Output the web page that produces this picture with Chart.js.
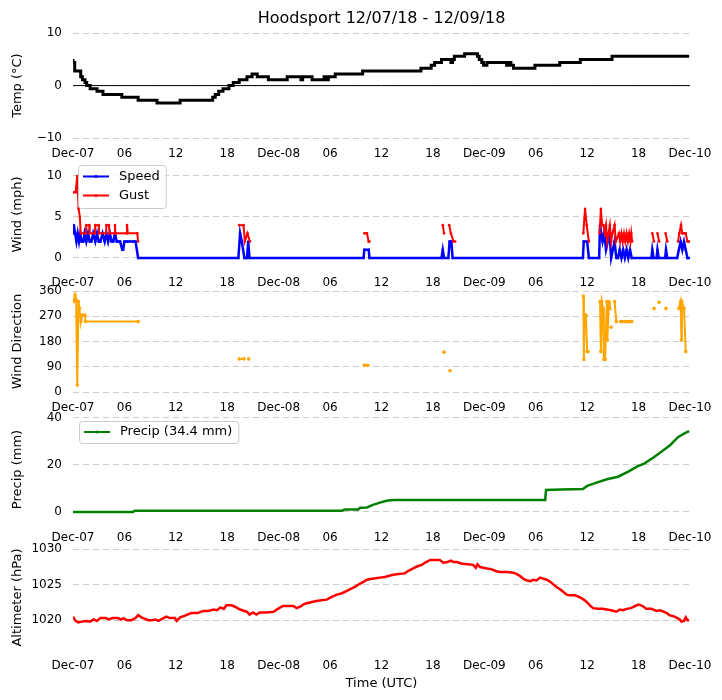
<!DOCTYPE html>
<html>
<head>
<meta charset="utf-8">
<script src="https://cdn.jsdelivr.net/npm/chart.js@4/dist/chart.umd.min.js"></script>
<style>
  body { margin: 0; background: #fff; }
  #wrap { position: relative; width: 722px; height: 700px; background: #fff; }
  #wrap canvas { position: absolute; left: 0; }
</style>
</head>
<body>
<div id="wrap">
  <canvas id="cTemp" width="722" height="168" style="top:0px"></canvas>
  <canvas id="cWind" width="722" height="145" style="top:152px"></canvas>
  <canvas id="cDir" width="722" height="141" style="top:281px"></canvas>
  <canvas id="cPrecip" width="722" height="145" style="top:407px"></canvas>
  <canvas id="cAlt" width="722" height="165" style="top:535px"></canvas>
</div>
<script>
/*********************************************/
/*      Hoodsport station, Dec 7 - Dec 9     */
/*********************************************/

// x values are hours after 2018-12-07 00:00 UTC
const xTickHours = [0, 6, 12, 18, 24, 30, 36, 42, 48, 54, 60, 66, 72];
const xTickLabels = ["Dec-07", "06", "12", "18", "Dec-08", "06", "12", "18", "Dec-09", "06", "12", "18", "Dec-10"];

// temperature (deg C), held until the next reading
const tempHours = [0.0, 0.2, 0.9, 1.1, 1.4, 1.6, 2.0, 2.8, 3.5, 5.7, 7.6, 9.8, 12.5, 16.3, 16.6, 17.0, 17.5, 18.2, 18.7, 19.4, 20.3, 20.9, 21.5, 22.8, 25.0, 26.6, 26.8, 27.9, 29.3, 29.5, 29.8, 30.6, 33.8, 40.6, 41.8, 42.2, 43.0, 44.1, 44.3, 44.5, 45.7, 47.2, 47.4, 47.7, 47.9, 48.3, 50.6, 50.8, 51.1, 51.4, 53.9, 56.8, 59.2, 62.9, 66.0, 71.9];
const tempVals = [5.1, 4.4, 2.8, 1.7, 1.1, 0.6, 0.0, -0.6, -1.1, -1.7, -2.2, -2.8, -3.3, -2.8, -2.2, -1.7, -1.1, -0.6, 0.0, 0.6, 1.1, 1.7, 2.2, 1.7, 1.1, 1.7, 1.1, 1.7, 1.1, 1.7, 1.1, 1.7, 2.2, 2.8, 3.3, 3.9, 4.4, 5.0, 4.4, 5.0, 5.6, 6.1, 5.6, 5.0, 4.4, 3.9, 4.4, 3.9, 4.4, 3.9, 3.3, 3.9, 4.4, 5.0, 5.6, 5.6];

// wind speed (mph)
const speedHours = [
  0.0, 0.1, 0.25, 0.4, 0.55, 0.7, 0.85, 1.0, 1.2, 1.35, 1.55, 1.75, 1.95, 2.15, 2.35, 2.6, 2.8, 3.0, 3.2, 3.45, 3.7, 3.9, 4.1, 4.3, 4.5, 4.7, 4.9, 5.1, 5.3, 5.5, 5.75, 5.85, 6.0, 6.3, 6.6, 7.0, 7.3, 7.6,
  19.3, 19.5, 19.7, 20.0, 20.3, 20.45, 20.6,
  33.9, 34.0, 34.5, 34.6,
  43.0, 43.15, 43.3, 43.8, 43.95, 44.15, 44.3,
  59.5, 59.6, 60.0, 60.2,
  61.4, 61.5, 61.65, 61.8, 62.0, 62.2, 62.4, 62.6, 62.8, 63.0, 63.2, 63.4, 63.6, 63.8, 64.0, 64.2, 64.4, 64.6, 64.8, 65.0, 65.2,
  67.5, 67.6, 67.75, 68.1, 68.2, 68.35, 69.1, 69.2, 69.35,
  70.5, 70.7, 70.9, 71.1, 71.3, 71.5, 71.7, 71.9
];
const speedVals = [
  3, 4, 3, 2, 3, 2, 3, 2, 2, 3, 2, 3, 2, 2, 3, 2, 3, 2, 2, 3, 2, 3, 2, 3, 2, 2, 3, 2, 2, 2, 1, 1, 2, 2, 2, 2, 2, 0,
  0, 3, 2, 0, 0, 2, 0,
  0, 1, 1, 0,
  0, 1, 0, 0, 2, 2, 0,
  0, 2, 2, 0,
  0, 4, 3, 2, 3, 1, 2, 3, 0, 1, 2, 0, 0, 1, 0, 1, 0, 1, 0, 1, 0,
  0, 1, 0, 0, 1, 0, 0, 1, 0,
  0, 1, 2, 1, 2, 1, 0, 0
];

// wind gust (mph), null = no gust reported
const gustHours = [
  0.0, 0.3, 0.5, 0.65, 0.8, 0.9, 1.5, 1.55, 1.9, 1.95, 2.55, 2.6, 3.0, 3.05, 3.85, 3.9, 4.2, 4.25, 4.85, 4.9, 4.95, 6.25, 6.3, 6.4, 7.5, 7.6, 8.0,
  19.4, 19.9, 20.05, 20.35, 20.65, 21.0,
  34.0, 34.3, 34.5, 34.6, 35.0,
  43.15, 43.3, 43.6, 43.9, 44.1, 44.4, 44.6, 45.0,
  59.55, 59.75, 59.95, 60.2, 60.6,
  61.45, 61.6, 61.75, 61.9, 62.05, 62.2, 62.35, 62.5, 62.65, 62.8, 62.95, 63.2, 63.35, 63.7, 63.85, 64.0, 64.15, 64.3, 64.45, 64.6, 64.75, 64.9, 65.05, 65.15, 65.25, 65.5,
  67.6, 67.8, 68.0, 68.2, 68.4, 68.8, 69.15, 69.35, 70.0,
  70.6, 70.75, 70.95, 71.1, 71.3, 71.5, 71.7, 71.9
];
const gustVals = [
  8, 8, 10, 6, 5, 3, 3, 4, 4, 3, 3, 4, 4, 3, 3, 4, 4, 3, 3, 4, 3, 3, 4, 3, 3, 2, null,
  4, 4, 2, 3, 2, null,
  3, 3, 2, 2, null,
  4, 3, null, 4, 3, 2, 2, null,
  3, 6, 4, 2, null,
  3, 6, 4, 4, 3, 4, 2, 3, 4, 2, 3, 4, 2, 3, 2, 3, 2, 3, 2, 3, 2, 3, 2, 3, 2, null,
  3, 2, null, 3, 2, null, 3, 2, null,
  2, 3, 4, 3, 3, 3, 2, 2
];

// wind direction (degrees), null = calm
const dirHours = [
  0.05, 0.24, 0.36, 0.5, 0.64, 0.75, 0.82, 0.93, 1.1, 1.4, 1.45, 7.6, 8.0,
  19.4, 19.95, 20.2, 20.5, 21.0,
  34.0, 34.4, 35.0,
  43.3, 43.6, 44.0, 44.5,
  59.55, 59.62, 59.68, 59.85, 60.0, 60.1, 60.6,
  61.5, 61.6, 61.7, 61.85, 61.95, 62.1, 62.3, 62.35, 62.55, 62.65, 62.7, 62.8, 63.0,
  63.2, 63.4, 63.6, 63.9, 64.15, 64.3, 64.45, 64.7, 64.8, 64.95, 65.2, 65.5,
  67.8, 68.0, 68.4, 68.8, 69.2, 69.6,
  70.7, 70.9, 71.0, 71.05, 71.3, 71.5
];
const dirVals = [
  322, 346, 330, 25, 322, 298, 274, 251, 274, 274, 251, 251, null,
  118, 118, null, 118, null,
  95, 95, null,
  142, null, 76, null,
  342, 116, 274, 274, 144, 144, null,
  322, 144, 322, 298, 116, 116, 322, 185, 322, 298, null, 231, null,
  322, 251, null, 251, 251, null, 251, 251, null, 251, 251, null,
  298, null, 320, null, 298, null,
  298, 322, 185, 322, 298, 144
];

// accumulated precipitation (mm)
const precipHours = [0, 7.0, 7.2, 31.4, 31.7, 33.3, 33.5, 34.3, 35.0, 35.8, 36.6, 37.4, 55.1, 55.2, 57.0, 59.5, 60.0, 61.1, 62.3, 63.6, 64.8, 65.8, 66.7, 67.7, 68.7, 69.7, 70.6, 71.4, 71.9];
const precipVals = [0, 0, 0.5, 0.5, 1.1, 1.1, 1.8, 1.9, 3.0, 4.0, 4.8, 5.1, 5.1, 9.4, 9.6, 9.8, 11.1, 12.5, 13.9, 15.0, 17.2, 19.3, 20.7, 23.1, 25.7, 28.5, 31.8, 33.5, 34.4];

// altimeter (hPa)
const altHours = [
  0.0, 0.3, 0.6, 1.0, 1.6, 2.0, 2.4, 2.8, 3.2, 3.8,
  4.2, 4.6, 5.2, 5.6, 5.9, 6.3, 6.8, 7.3, 7.6, 8.0,
  8.4, 8.8, 9.2, 9.6, 10.0, 10.4, 10.9, 11.3, 11.9, 12.1,
  12.5, 13.0, 13.8, 14.5, 15.2, 15.8, 16.4, 16.8, 17.2, 17.6,
  17.9, 18.5, 18.9, 19.5, 20.0, 20.3, 20.6, 21.0, 21.4, 21.8,
  22.5, 23.4, 23.9, 24.5, 25.2, 25.7, 26.1, 26.5, 27.0, 27.3,
  28.0, 28.4, 29.0, 29.6, 30.2, 30.8, 31.4, 31.9, 32.4, 32.9,
  33.4, 33.9, 34.3, 34.7, 35.3, 35.8, 36.4, 37.0, 37.4, 38.0,
  38.7, 39.2, 39.7, 40.2, 40.7, 41.2, 41.7, 42.3, 42.8, 43.2,
  43.7, 44.1, 44.4, 44.8, 45.3, 46.0, 46.7, 47.0, 47.2, 47.5,
  48.3, 48.8, 49.4, 49.8, 50.6, 51.4, 51.8, 52.2, 52.6, 53.0,
  53.4, 53.7, 54.1, 54.5, 55.0, 55.3, 55.7, 56.1, 56.5, 56.8,
  57.2, 57.6, 58.0, 58.6, 59.2, 59.6, 60.0, 60.4, 60.7, 61.2,
  61.8, 62.3, 62.8, 63.4, 63.8, 64.2, 64.6, 65.1, 65.6, 66.0,
  66.3, 66.6, 66.9, 67.5, 68.1, 68.5, 68.9, 69.3, 69.6, 70.2,
  70.8, 71.0, 71.3, 71.5, 71.7, 71.9
];
const altVals = [
  1020.5, 1019.9, 1019.7, 1019.8, 1019.9, 1019.8, 1020.1, 1019.9, 1020.3, 1020.3,
  1020.1, 1020.3, 1020.3, 1020.1, 1020.3, 1020.0, 1020.0, 1020.3, 1020.7, 1020.4,
  1020.2, 1020.0, 1020.0, 1020.1, 1019.9, 1020.2, 1020.5, 1020.3, 1020.3, 1019.9,
  1020.4, 1020.6, 1021.0, 1021.0, 1021.3, 1021.3, 1021.5, 1021.4, 1021.8, 1021.6,
  1022.1, 1022.1, 1021.9, 1021.5, 1021.3, 1021.2, 1020.8, 1021.1, 1020.8, 1021.1,
  1021.1, 1021.2, 1021.6, 1022.0, 1022.0, 1022.0, 1021.7, 1021.9, 1022.3, 1022.4,
  1022.6, 1022.7, 1022.8, 1022.9, 1023.3, 1023.6, 1023.8, 1024.1, 1024.4, 1024.7,
  1025.1, 1025.4, 1025.7, 1025.8, 1025.9, 1026.0, 1026.1, 1026.3, 1026.4, 1026.5,
  1026.6, 1027.0, 1027.3, 1027.6, 1027.8, 1028.2, 1028.5, 1028.5, 1028.5, 1028.1,
  1028.2, 1028.4, 1028.2, 1028.2, 1028.0, 1027.9, 1027.8, 1027.4, 1027.9, 1027.5,
  1027.3, 1027.2, 1026.9, 1026.8, 1026.8, 1026.7, 1026.5, 1026.2, 1025.8, 1025.6,
  1025.5, 1025.7, 1025.6, 1026.0, 1025.8, 1025.7, 1025.4, 1025.0, 1024.6, 1024.4,
  1024.0, 1023.6, 1023.5, 1023.5, 1023.2, 1022.9, 1022.5, 1022.0, 1021.7, 1021.6,
  1021.6, 1021.5, 1021.4, 1021.2, 1021.5, 1021.4, 1021.6, 1021.7, 1022.0, 1022.2,
  1022.1, 1021.9, 1021.6, 1021.6, 1021.3, 1021.4, 1021.2, 1021.0, 1020.7, 1020.5,
  1020.1, 1019.8, 1019.9, 1020.4, 1020.0, 1020.0
];

// pair up x/y arrays for the library
function pts(hours, vals) {
  return hours.map(function (h, i) {
    return { x: h, y: vals[i] };
  });
}

Chart.defaults.font.family = "'DejaVu Sans', sans-serif";
Chart.defaults.color = "#000";

// framed legend drawn inside the plot, like matplotlib's
const frameLegend = {
  id: "frameLegend",
  afterDraw(chart, args, opts) {
    if (!opts.show) return;
    const sets = chart.data.datasets.filter((d) => d.inLegend);
    const ctx = chart.ctx;
    ctx.save();
    ctx.font = "13px 'DejaVu Sans'";
    const textW = Math.max(...sets.map((d) => ctx.measureText(d.label).width));
    const x = chart.chartArea.left + opts.dx;
    const y = chart.chartArea.top + opts.dy;
    const w = 41 + textW + 6;
    const h = opts.h;
    ctx.beginPath();
    if (ctx.roundRect) ctx.roundRect(x + 0.5, y + 0.5, w, h, 3);
    else ctx.rect(x + 0.5, y + 0.5, w, h);
    ctx.fillStyle = "rgba(255,255,255,0.8)";
    ctx.fill();
    ctx.strokeStyle = "#cccccc";
    ctx.lineWidth = 1;
    ctx.stroke();
    sets.forEach((d, i) => {
      const ly = y + opts.row0 + i * 19;
      ctx.strokeStyle = d.borderColor;
      ctx.lineWidth = 2;
      ctx.beginPath();
      ctx.moveTo(x + 5, ly);
      ctx.lineTo(x + 31, ly);
      ctx.stroke();
      ctx.fillStyle = d.borderColor;
      ctx.beginPath();
      ctx.arc(x + 18, ly, 1.6, 0, Math.PI * 2);
      ctx.fill();
      ctx.fillStyle = "#000";
      ctx.textBaseline = "middle";
      ctx.fillText(d.label, x + 41, ly);
    });
    ctx.restore();
  }
};

// one subplot = one chart on its own canvas
function panel(id, datasets, o) {
  return new Chart(document.getElementById(id), {
    type: "line",
    data: { datasets: datasets },
    options: {
      responsive: false,
      animation: false,
      layout: { padding: { top: o.padTop, right: 32, left: 0, bottom: 0 } },
      plugins: {
        legend: { display: false },
        tooltip: { enabled: false },
        title: o.title || { display: false },
        frameLegend: o.legend || { show: false }
      },
      scales: {
        x: {
          type: "linear",
          min: 0,
          max: 72,
          grid: { display: false },
          border: { display: false },
          afterBuildTicks: (s) => { s.ticks = xTickHours.map((v) => ({ value: v })); },
          afterFit: (s) => { s.height = o.xHeight; },
          ticks: {
            autoSkip: false,
            maxRotation: 0,
            padding: 1,
            font: { size: 12 },
            callback: (v, i) => xTickLabels[i]
          },
          title: o.xTitle || { display: false }
        },
        y: {
          min: o.yMin,
          max: o.yMax,
          afterBuildTicks: (s) => { s.ticks = o.yTicks.map((v) => ({ value: v })); },
          afterFit: (s) => {
            s.width = 73;
            // keep the label overhang from pushing the plot down
            s.paddingTop = 8;
            s.paddingBottom = 8;
          },
          grid: { color: "#cccccc", lineWidth: 1, drawTicks: false },
          border: { display: false, dash: [6, 4] },
          ticks: {
            padding: 11,
            font: { size: 12 },
            callback: (v) => String(v).replace("-", "\u2212")
          },
          title: {
            display: true,
            text: o.yTitle,
            font: { size: 13 },
            padding: { top: 10, bottom: 0 }
          }
        }
      }
    },
    plugins: [frameLegend]
  });
}

const lineBase = { fill: false, tension: 0, pointBorderWidth: 0 };

// Temp
panel("cTemp", [
  Object.assign({}, lineBase, {
    label: "Temp", data: pts(tempHours, tempVals), stepped: "after",
    borderColor: "#000000", backgroundColor: "#000000", borderWidth: 3, pointRadius: 0, order: 0
  }),
  Object.assign({}, lineBase, {
    label: "zero", data: pts([0, 72], [0, 0]),
    borderColor: "#000000", borderWidth: 1, pointRadius: 0, order: 1
  })
], {
  padTop: 0, xHeight: 30, yMin: -10, yMax: 10, yTicks: [-10, 0, 10], yTitle: "Temp (°C)",
  title: {
    display: true, text: "Hoodsport 12/07/18 - 12/09/18", fullSize: false,
    font: { size: 16, weight: "normal" }, color: "#000", padding: { top: 9, bottom: 5 }
  }
});

// Wind
panel("cWind", [
  Object.assign({}, lineBase, {
    label: "Speed", inLegend: true, data: pts(speedHours, speedVals),
    borderColor: "#0000ff", backgroundColor: "#0000ff", borderWidth: 2.5, pointRadius: 1.3, order: 1
  }),
  Object.assign({}, lineBase, {
    label: "Gust", inLegend: true, data: pts(gustHours, gustVals),
    borderColor: "#ff0000", backgroundColor: "#ff0000", borderWidth: 2, pointRadius: 1.3, order: 0
  })
], {
  padTop: 10, xHeight: 30, yMin: -1.1, yMax: 11.7, yTicks: [0, 5, 10], yTitle: "Wind (mph)",
  legend: { show: true, dx: 5, dy: 3, h: 43, row0: 11.5 }
});

// Wind direction
panel("cDir", [
  Object.assign({}, lineBase, {
    label: "Direction", data: pts(dirHours, dirVals),
    borderColor: "#ffa500", backgroundColor: "#ffa500", borderWidth: 2, pointRadius: 1.8
  })
], {
  padTop: 10, xHeight: 30, yMin: 0, yMax: 360, yTicks: [0, 90, 180, 270, 360], yTitle: "Wind Direction"
});

// Precip
const precipTotal = precipVals[precipVals.length - 1];
panel("cPrecip", [
  Object.assign({}, lineBase, {
    label: "Precip (" + precipTotal.toFixed(1) + " mm)", inLegend: true, data: pts(precipHours, precipVals),
    borderColor: "#008000", backgroundColor: "#008000", borderWidth: 2.5, pointRadius: 0
  })
], {
  padTop: 10, xHeight: 30, yMin: -4.26, yMax: 40.4, yTicks: [0, 20, 40], yTitle: "Precip (mm)",
  legend: { show: true, dx: 6, dy: 4, h: 22, row0: 11 }
});

// Altimeter
panel("cAlt", [
  Object.assign({}, lineBase, {
    label: "Altimeter", data: pts(altHours, altVals),
    borderColor: "#ff0000", backgroundColor: "#ff0000", borderWidth: 2.5, pointRadius: 0
  })
], {
  padTop: 10, xHeight: 50, yMin: 1015.8, yMax: 1030.6, yTicks: [1020, 1025, 1030], yTitle: "Altimeter (hPa)",
  xTitle: { display: true, text: "Time (UTC)", font: { size: 13 }, color: "#000", padding: { top: 0, bottom: 9 } }
});
</script>
</body>
</html>
